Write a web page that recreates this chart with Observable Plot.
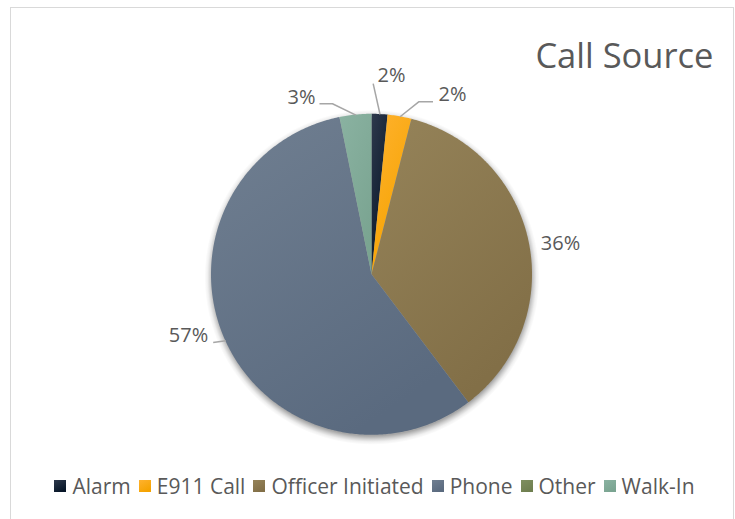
<!DOCTYPE html>
<html>
<head>
<meta charset="utf-8">
<script src="https://cdn.jsdelivr.net/npm/d3@7"></script>
<script src="https://cdn.jsdelivr.net/npm/@observablehq/plot@0.6"></script>
<style>
  html, body { margin: 0; padding: 0; background: #fff; width: 735px; height: 519px; overflow: hidden; }
  #wrap { position: relative; width: 735px; height: 519px; }
  #chart { position: absolute; left: 0; top: 0; }
  #frame { position: absolute; left: 10px; top: 7px; width: 724px; height: 600px; border: 1px solid #d9d9d9; box-sizing: border-box; pointer-events: none; }
  #legend { position: absolute; left: 11px; top: 469px; width: 735px; }
  #legend .lg-swatches { justify-content: center !important; margin: 0 !important; }
  #legend .lg-swatch { margin-right: 8px !important; }
  #legend .lg-swatch > svg { margin-right: 6px !important; }
</style>
</head>
<body>
<div id="wrap"><div id="chart"></div><div id="legend"></div><div id="frame"></div></div>
<script>
// ---- data ----
const title = "Call Source";
const categories = ["Alarm", "E911 Call", "Officer Initiated", "Phone", "Other", "Walk-In"];
const shares = [1.6, 2.4, 35.7, 57.1, 0, 3.2];

// ---- styles ----
const lightColors = ["#2e394c", "#ffb22f", "#958359", "#707f91", "#7f8f60", "#8ab2a1"];
const darkColors  = ["#071628", "#f5a300", "#826f47", "#5a6a7f", "#6f7f50", "#7aa491"];
const textColor = "#595959";
const leaderColor = "#a6a6a6";
const FONT = "Open Sans";

// ---- layout ----
const W = 735, H = 519, CX = 371.5, CY = 274.3, R = 160.5;
const labelRadius = 1.2;
// label nudges in px (right, down) from the mid-angle anchor
const labelNudge = {
  "Alarm": [9.8, -7], "E911 Call": [46.8, 9.3], "Officer Initiated": [-0.3, 6.6],
  "Phone": [-8, -18.6], "Walk-In": [-51.2, 14.8]
};
// leader vertices in px relative to label centre (after the arc-mid start)
const leaderPath = {
  "Alarm": [[-18.3, 8.1]],
  "E911 Call": [[-33.8, 7.4], [-19.5, 7.4]],
  "Phone": [[24.7, 7]],
  "Walk-In": [[31, 5.8], [18, 5.8]]
};

const gradUrl = categories.map((c, i) => `url(#grad${i})`);
const polar = (a, r) => [r * Math.sin(a), r * Math.cos(a)];
const arcs = d3.pie().sort(null).value(d => d)(shares);

// slice outline: arc points, closed back to the centre by the area baseline
const sliceRows = arcs.flatMap((a, i) => {
  const name = categories[i];
  const n = Math.max(2, Math.ceil((a.endAngle - a.startAngle) / 0.01));
  const pts = [];
  for (let k = 0; k <= n; k++) {
    const t = a.startAngle + (a.endAngle - a.startAngle) * k / n;
    const [x, y] = polar(t, 1);
    pts.push({name, x, y, cx: 0, cy: 0});
  }
  return pts;
});

const labelRows = [];
const leaderRows = [];
arcs.forEach((a, i) => {
  const name = categories[i];
  if (!(shares[i] > 0) || !labelNudge[name]) return;
  const mid = (a.startAngle + a.endAngle) / 2;
  const [px, py] = polar(mid, labelRadius);
  const [nx, ny] = labelNudge[name];
  const lx = px + nx / R, ly = py - ny / R;
  labelRows.push({name, x: lx, y: ly, text: Math.round(shares[i]) + "%"});
  if (leaderPath[name]) {
    const [sx, sy] = polar(mid, 1);
    leaderRows.push({name, x: sx, y: sy});
    for (const [ox, oy] of leaderPath[name]) leaderRows.push({name, x: lx + ox / R, y: ly - oy / R});
  }
});

const SHADOW_R = R + 7;
const plot = Plot.plot({
  width: W, height: H, margin: 0,
  style: {background: "transparent", overflow: "visible"},
  x: {domain: [-1, 1], range: [CX - R, CX + R], axis: null},
  y: {domain: [-1, 1], range: [CY + R, CY - R], axis: null},
  color: {domain: categories, range: gradUrl, type: "ordinal"},
  marks: [
    Plot.dot([{x: 0, y: 0}], {x: "x", y: "y", r: SHADOW_R, dy: 2.5, fill: "url(#pieShadow)", stroke: "none"}),
    Plot.area(sliceRows, {x1: "x", y1: "y", x2: "cx", y2: "cy", z: "name", fill: "name", stroke: "none"}),
    Plot.line(leaderRows, {x: "x", y: "y", z: "name", stroke: leaderColor, strokeWidth: 1.5, strokeLinecap: "butt", strokeLinejoin: "miter"}),
    Plot.text(labelRows, {x: "x", y: "y", text: "text", fontFamily: FONT, fontSize: 20, fill: textColor}),
    Plot.text([title], {frameAnchor: "top-right", lineAnchor: "top", dx: -22, dy: 42.5, fontFamily: FONT, fontSize: 34.5, fill: textColor})
  ]
});

// gradients + shadow
const svg = d3.select(plot);
const defs = svg.insert("defs", ":first-child");
categories.forEach((c, i) => {
  const g = defs.append("linearGradient").attr("id", `grad${i}`)
    .attr("x1", 0).attr("y1", 0).attr("x2", 0.55).attr("y2", 1);
  g.append("stop").attr("offset", 0).attr("stop-color", lightColors[i]);
  g.append("stop").attr("offset", 1).attr("stop-color", darkColors[i]);
});
const rg = defs.append("radialGradient").attr("id", "pieShadow");
const S = SHADOW_R;
[[0, 0.35], [(R - 2) / S, 0.35], [(R + 1.5) / S, 0.17], [(R + 4) / S, 0.06], [1, 0]].forEach(([o, a]) =>
  rg.append("stop").attr("offset", o).attr("stop-color", "#000").attr("stop-opacity", a));

document.getElementById("chart").appendChild(plot);

const legend = plot.legend("color", {
  legend: "swatches",
  className: "lg", swatchSize: 12,
  style: {fontFamily: FONT, fontSize: "21px", color: textColor}
});
document.getElementById("legend").appendChild(legend);
</script>
</body>
</html>
